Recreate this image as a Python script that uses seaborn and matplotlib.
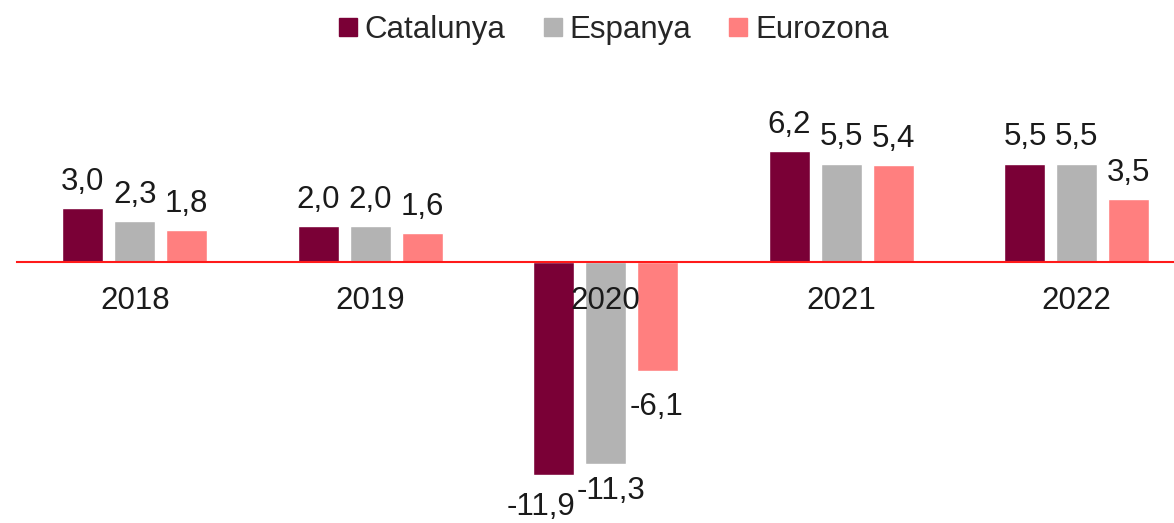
import matplotlib
matplotlib.use("Agg")
import matplotlib.pyplot as plt
import pandas as pd
import seaborn as sns

years = ["2018", "2019", "2020", "2021", "2022"]
catalunya = [3.0, 2.0, -11.9, 6.2, 5.5]
espanya = [2.3, 2.0, -11.3, 5.5, 5.5]
eurozona = [1.8, 1.6, -6.1, 5.4, 3.5]
series = ["Catalunya", "Espanya", "Eurozona"]
colors = ["#7a0036", "#b3b3b3", "#ff7f7f"]

df = pd.DataFrame({"any": years * 3,
                   "valor": catalunya + espanya + eurozona,
                   "serie": sum([[s] * len(years) for s in series], [])})

# label nudges (points) for the crowded 2020 group: (dx, padding)
nudge = {("Catalunya", "2020"): (-9, 12),
         ("Espanya", "2020"): (4, 8.5),
         ("Eurozona", "2020"): (-1, 15)}

sns.set_theme(style="white")
plt.rcParams["font.family"] = ["Liberation Sans", "DejaVu Sans"]

fig = plt.figure(figsize=(11.74, 5.23), dpi=100)
ax = fig.add_axes([17 / 1174, 0, (1174 - 17) / 1174, 1])

sns.barplot(data=df, x="any", y="valor", hue="serie", palette=colors,
            width=0.66, gap=0.21, ax=ax, legend=False, saturation=1)

fs = 22.5
for s, cont in zip(series, ax.containers):
    anns = ax.bar_label(cont, labels=[f"{v:.1f}".replace(".", ",") for v in cont.datavalues],
                        padding=8, fontsize=fs, color="#1a1a1a")
    for y, a in zip(years, anns):
        if (s, y) in nudge:
            dx, pad = nudge[(s, y)]
            a.xyann = (dx, -pad)

ax.set_xlim(-0.5, 4.413)
ax.set_ylim(-14.58, 14.64)
ax.set_xlabel("")
ax.set_ylabel("")
ax.set_yticks([])
for s in ["top", "right", "left"]:
    ax.spines[s].set_visible(False)
ax.set_axisbelow(False)
ax.xaxis.set_zorder(5)
ax.spines["bottom"].set_position(("data", 0))
ax.spines["bottom"].set_color("#ff1a1a")
ax.spines["bottom"].set_linewidth(1.5)
ax.spines["bottom"].set_zorder(4)
ax.tick_params(axis="x", length=0, pad=17, labelsize=fs, labelcolor="#1a1a1a")

handles = [plt.Line2D([], [], marker="s", linestyle="", markersize=12.5,
                      color=c) for c in colors]
fig.legend(handles, series, loc="upper center", bbox_to_anchor=(0.520, 1.025),
           ncol=3, frameon=False, fontsize=fs, handletextpad=0.05,
           columnspacing=1.0, handlelength=1.0)

fig.savefig("out.png", dpi=100)
